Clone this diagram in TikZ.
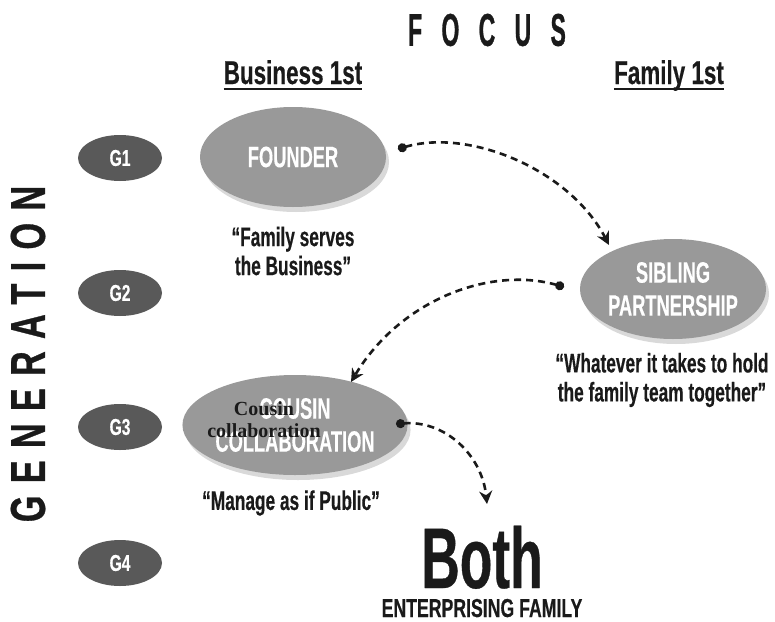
\documentclass[tikz,border=0pt]{standalone}
\usepackage{fontspec}
\setmainfont{Liberation Sans}
\newfontfamily\cond[FakeStretch=0.68,FakeBold=0.4]{Liberation Sans}
\newfontfamily\condq[FakeStretch=0.64,FakeBold=0.4]{Liberation Sans}
\newfontfamily\conds[FakeStretch=0.62,FakeBold=0.3]{Liberation Sans}
\newfontfamily\condx[FakeStretch=0.5,FakeBold=0.6,LetterSpace=42]{Liberation Sans}
\newfontfamily\condg[FakeStretch=0.7,FakeBold=0.6,LetterSpace=25]{Liberation Sans}
\newfontfamily\condb[FakeStretch=0.62,FakeBold=0.4]{Liberation Sans}
\newfontfamily\serifb{Liberation Serif}
\usetikzlibrary{shapes.geometric,shadows,arrows.meta}
\definecolor{bigfill}{HTML}{999999}
\definecolor{genfill}{HTML}{595959}
\definecolor{ink}{HTML}{1A1A1A}
\tikzset{
  stage/.style={ellipse, fill=bigfill, minimum width=186pt, minimum height=100pt,
    inner sep=0pt, text=white, align=center,
    font=\conds\bfseries\fontsize{29.5}{33}\selectfont,
    drop shadow={opacity=0.3, shadow xshift=3pt, shadow yshift=-5pt}},
  gen/.style={ellipse, fill=genfill, minimum width=84pt, minimum height=46pt,
    inner sep=0pt, text=white, font=\cond\bfseries\fontsize{23}{25}\selectfont},
  quote/.style={align=center, text=ink, inner sep=0pt,
    font=\condq\bfseries\fontsize{27}{29}\selectfont},
  head/.style={text=ink, inner sep=0pt, text depth=0pt, font=\cond\bfseries\fontsize{33}{36}\selectfont},
  uline/.style={line width=2.2pt, ink},
  flow/.style={dash pattern=on 7pt off 5pt, line width=2.6pt, ink,
    {Circle[length=9pt]}-{Stealth[length=13pt,width=13pt]}}
}
\begin{document}
\begin{tikzpicture}[x=1pt,y=-1pt]
\useasboundingbox (0,0) rectangle (775,621);
% titles
\node[text=ink, inner sep=0pt, font=\condx\bfseries\fontsize{46}{48}\selectfont] (focus) at (487,30) {FOCUS};
\node[head, anchor=base] (bus) at (293,84) {Business 1st};
\node[head, anchor=base] (fam) at (669,84) {Family 1st};
\draw[uline] ([yshift=-5pt]bus.base west) -- ([yshift=-5pt]bus.base east);
\draw[uline] ([yshift=-5pt]fam.base west) -- ([yshift=-5pt]fam.base east);
\node[text=ink, inner sep=0pt, rotate=90, font=\condg\bfseries\fontsize{49}{51}\selectfont] (genlbl) at (28,354) {GENERATION};
% generation ovals
\node[gen] (g1) at (120,158) {G1};
\node[gen] (g2) at (120,293) {G2};
\node[gen] (g3) at (120,427) {G3};
\node[gen] (g4) at (120,563) {G4};
% stages
\node[stage] (founder) at (293,157) {FOUNDER};
\node[stage] (sibling) at (673,289) {SIBLING\\PARTNERSHIP};
\node[stage] (cousin) at (295,425) {COUSIN\\COLLABORATION};
\node[align=center, inner sep=0pt, text=ink, font=\serifb\bfseries\fontsize{20}{22}\selectfont] (cousinov) at (264,420) {Cousin\\collaboration};
% quotes
\node[quote] (q1) at (293,251) {“Family serves\\the Business”};
\node[quote] (q2) at (662,380) {“Whatever it takes to hold\\the family team together”};
\node[quote] (q3) at (291,503) {“Manage as if Public”};
\node[text=ink, inner sep=0pt, anchor=base, font=\condb\bfseries\fontsize{86}{88}\selectfont] (both) at (482,588) {Both};
\node[text=ink, inner sep=0pt, anchor=base, font=\cond\bfseries\fontsize{26}{28}\selectfont] (ent) at (482,617) {ENTERPRISING FAMILY};
% connectors
\coordinate (a1s) at (398,149);
\coordinate (a1e) at (609,245);
\coordinate (a2s) at (564,287);
\coordinate (a2e) at (351,382);
\coordinate (a3s) at (396,424);
\coordinate (a3e) at (487,504);
\draw[flow] (a1s) .. controls (470,128) and (570,170) .. (a1e);
\draw[flow] (a2s) .. controls (490,266) and (400,300) .. (a2e);
\draw[flow] (a3s) .. controls (445,420) and (482,455) .. (a3e);
\end{tikzpicture}
\end{document}
